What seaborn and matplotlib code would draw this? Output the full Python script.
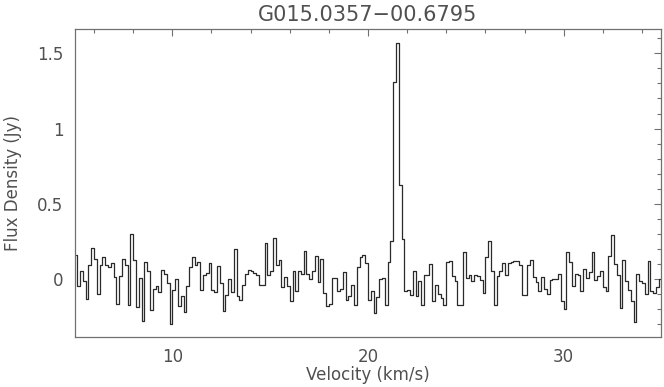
import numpy as np
import pandas as pd
import matplotlib
matplotlib.use('Agg')
import matplotlib.pyplot as plt
import seaborn as sns
from matplotlib.ticker import MultipleLocator, FuncFormatter

# --- data: spectrum, one value per channel ---
source_name = 'G015.0357\u221200.6795'
v_start = 5.0      # km/s, left edge of first channel
v_end = 35.0       # km/s, right edge of last channel

flux = [
    # 5 - 10 km/s
    0.159, -0.047, 0.057, -0.014, -0.131, 0.092, 0.207, 0.136, -0.098, 0.092,
    0.145, 0.092, 0.079, 0.105, 0.013, -0.164, 0.019, 0.136, 0.092, -0.173,
    0.300, 0.130, -0.187, 0.008, -0.279, 0.114, 0.052, -0.202, -0.063, -0.047,
    -0.087, 0.063, 0.035, -0.025,
    # 10 - 15 km/s
    -0.295, -0.069, 0.004, -0.175, -0.109, -0.218, -0.043, 0.079, 0.150, 0.092,
    0.114, -0.071, 0.026, 0.041, 0.108, -0.074, -0.085, 0.090, -0.025, -0.213,
    -0.102, 0.004, -0.085, 0.198, -0.114, -0.136, -0.036, 0.035, 0.063, 0.052,
    0.041, 0.030, -0.036, -0.036, 0.240,
    # 15 - 20 km/s
    0.030, 0.052, 0.274, 0.092, 0.130, -0.054, 0.013, -0.047, -0.142, 0.052,
    -0.076, 0.052, 0.035, 0.185, 0.035, 0.004, 0.052, 0.152, -0.018, 0.136,
    -0.091, -0.180, -0.164, 0.008, 0.008, -0.080, -0.063, 0.046, -0.136, -0.109,
    -0.041, -0.169, 0.079, 0.145, 0.159,
    # 20 - 25 km/s (maser line)
    0.108, -0.136, -0.080, -0.224, -0.120, 0.004, 0.010, -0.169, 0.114, 0.251,
    1.310, 1.570, 0.625, 0.265, -0.076, -0.069, -0.102, 0.052, -0.114, -0.014,
    -0.173, 0.026, 0.030, 0.101, -0.142, -0.036, -0.098, -0.125, -0.173, 0.114,
    0.123, 0.019, -0.010, -0.169, -0.169, 0.181,
    # 25 - 30 km/s
    0.008, 0.026, -0.010, 0.026, 0.019, -0.003, -0.091, 0.145, 0.251, 0.057,
    -0.173, 0.019, 0.057, 0.108, 0.030, 0.108, 0.112, 0.119, 0.123, 0.097,
    -0.107, -0.107, 0.092, 0.130, 0.013, -0.018, -0.076, 0.013, -0.063, -0.098,
    -0.003, 0.004, 0.004, 0.035, -0.142,
    # 30 - 35 km/s
    -0.195, 0.181, 0.114, -0.047, 0.035, 0.030, -0.080, 0.070, 0.008, 0.048,
    0.181, -0.003, 0.019, 0.057, -0.054, -0.076, 0.152, 0.296, 0.101, 0.030,
    -0.191, 0.130, -0.010, -0.069, -0.147, -0.284, 0.035, -0.010, -0.025, -0.098,
    0.119, -0.076, -0.091, -0.054, 0.004,
]

x_ticks = [10, 20, 30]
y_ticks = [0, 0.5, 1, 1.5]

# channel centres
n_chan = len(flux)
dv = (v_end - v_start) / n_chan
velocity = v_start + dv * (np.arange(n_chan) + 0.5)
df = pd.DataFrame({'velocity': velocity, 'flux': flux})

# --- style ---
sns.set_theme(style='white')
plt.rcParams['font.family'] = ['DejaVu Sans']
text_col = '#505050'
axis_col = '#707070'

fig = plt.figure(figsize=(6.64, 3.87), dpi=100)
ax = fig.add_axes([0.1122, 0.1292, 0.8840, 0.7958])

sns.lineplot(data=df, x='velocity', y='flux', ax=ax, estimator=None,
             drawstyle='steps-mid', color='#2a2a2a', linewidth=0.9)

ax.set_xlim(v_start, v_end)
ax.set_ylim(-0.383, 1.661)

ax.xaxis.set_major_locator(MultipleLocator(10))
ax.xaxis.set_minor_locator(MultipleLocator(2))
ax.yaxis.set_major_locator(MultipleLocator(0.5))
ax.yaxis.set_minor_locator(MultipleLocator(0.1))
ax.set_xticks(x_ticks)
ax.set_yticks(y_ticks)
ax.yaxis.set_major_formatter(FuncFormatter(lambda v, p: f'{v:g}'))

ax.tick_params(which='both', direction='in', top=True, right=True,
               color=axis_col, labelcolor=text_col, labelsize=12, width=0.8)
ax.tick_params(which='major', length=5, pad=8)
ax.tick_params(which='minor', length=3)
for s in ax.spines.values():
    s.set_color(axis_col)
    s.set_linewidth(0.9)

ax.set_xlabel('Velocity (km/s)', fontsize=12, color=text_col, labelpad=0)
ax.set_ylabel('Flux Density (Jy)', fontsize=12, color=text_col, labelpad=11)
ax.set_title(source_name, fontsize=15, color=text_col, pad=6)

fig.savefig('out.png', dpi=100)
